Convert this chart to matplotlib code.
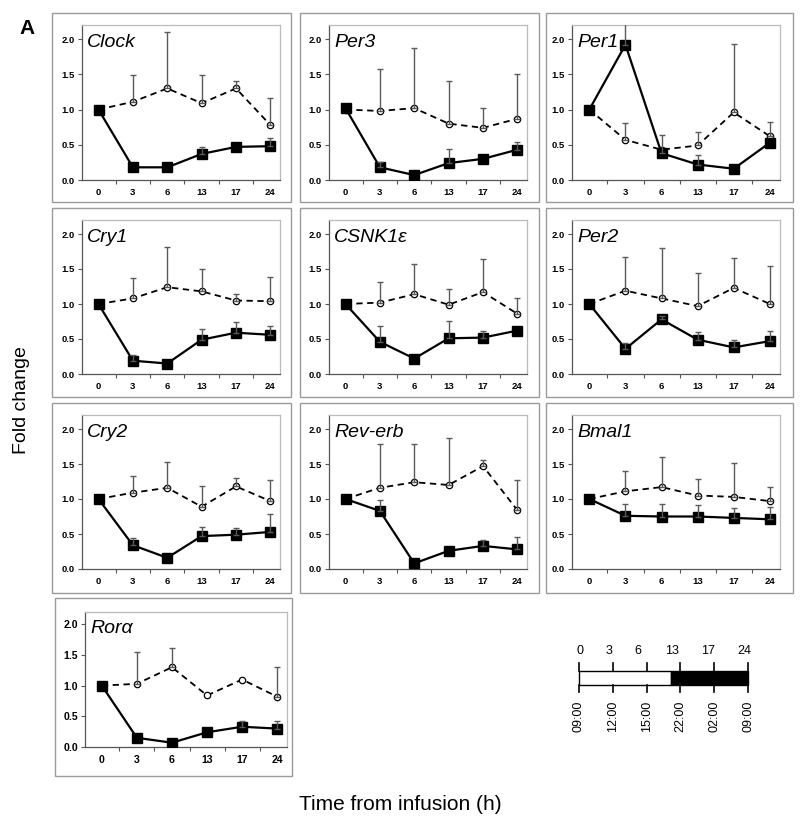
import numpy as np
import matplotlib
matplotlib.use("Agg")
import matplotlib.pyplot as plt
from matplotlib.patches import Rectangle

plt.rcParams['font.family'] = ['Liberation Sans', 'DejaVu Sans']

# ---------------- data ----------------
times = ['0', '3', '6', '13', '17', '24']
genes = ['Clock', 'Per3', 'Per1', 'Cry1', 'CSNK1ε', 'Per2', 'Cry2', 'Rev-erb', 'Bmal1', 'Rorα']

kd_clock = [1.00, 0.18, 0.18, 0.37, 0.47, 0.48]
kd_clock_err = [0, 0, 0, 0.10, 0, 0.12]
ctl_clock = [1.00, 1.11, 1.30, 1.09, 1.30, 0.78]
ctl_clock_err = [0, 0.38, 0.80, 0.40, 0.11, 0.38]

kd_per3 = [1.02, 0.18, 0.07, 0.24, 0.30, 0.43]
kd_per3_err = [0, 0.08, 0, 0.20, 0, 0.11]
ctl_per3 = [1.00, 0.98, 1.02, 0.80, 0.74, 0.87]
ctl_per3_err = [0, 0.59, 0.85, 0.61, 0.28, 0.64]

kd_per1 = [1.00, 1.92, 0.38, 0.22, 0.16, 0.53]
kd_per1_err = [0, 0.45, 0.26, 0.14, 0, 0]
ctl_per1 = [1.00, 0.57, 0.43, 0.49, 0.96, 0.62]
ctl_per1_err = [0, 0.24, 0, 0.19, 0.97, 0.20]

kd_cry1 = [1.00, 0.19, 0.15, 0.49, 0.59, 0.56]
kd_cry1_err = [0, 0.08, 0, 0.15, 0.15, 0.13]
ctl_cry1 = [1.00, 1.08, 1.24, 1.18, 1.05, 1.04]
ctl_cry1_err = [0, 0.29, 0.58, 0.32, 0.10, 0.35]

kd_csnk = [1.00, 0.46, 0.22, 0.51, 0.52, 0.62]
kd_csnk_err = [0, 0.22, 0, 0.25, 0.09, 0]
ctl_csnk = [1.00, 1.02, 1.14, 0.99, 1.17, 0.86]
ctl_csnk_err = [0, 0.29, 0.43, 0.23, 0.48, 0.22]

kd_per2 = [1.00, 0.36, 0.78, 0.49, 0.38, 0.47]
kd_per2_err = [0, 0.08, 0.05, 0.11, 0.11, 0.15]
ctl_per2 = [1.00, 1.19, 1.08, 0.97, 1.23, 1.00]
ctl_per2_err = [0, 0.48, 0.72, 0.48, 0.43, 0.54]

kd_cry2 = [1.00, 0.34, 0.16, 0.47, 0.49, 0.53]
kd_cry2_err = [0, 0.11, 0, 0.13, 0.10, 0.26]
ctl_cry2 = [1.00, 1.09, 1.16, 0.89, 1.18, 0.97]
ctl_cry2_err = [0, 0.24, 0.37, 0.30, 0.12, 0.30]

kd_reverb = [1.00, 0.83, 0.08, 0.26, 0.33, 0.28]
kd_reverb_err = [0, 0.16, 0, 0, 0.08, 0.18]
ctl_reverb = [1.00, 1.16, 1.24, 1.20, 1.47, 0.84]
ctl_reverb_err = [0, 0.63, 0.55, 0.67, 0.09, 0.43]

kd_bmal1 = [1.00, 0.76, 0.75, 0.75, 0.73, 0.71]
kd_bmal1_err = [0, 0.17, 0.18, 0.16, 0.14, 0.17]
ctl_bmal1 = [1.00, 1.11, 1.17, 1.05, 1.03, 0.97]
ctl_bmal1_err = [0, 0.29, 0.43, 0.23, 0.48, 0.20]

kd_rora = [1.00, 0.15, 0.07, 0.24, 0.33, 0.30]
kd_rora_err = [0, 0, 0, 0, 0.10, 0.13]
ctl_rora = [1.00, 1.03, 1.30, 0.84, 1.10, 0.82]
ctl_rora_err = [0, 0.52, 0.31, 0, 0, 0.48]

kd_all = [kd_clock, kd_per3, kd_per1, kd_cry1, kd_csnk, kd_per2, kd_cry2, kd_reverb, kd_bmal1, kd_rora]
kd_err_all = [kd_clock_err, kd_per3_err, kd_per1_err, kd_cry1_err, kd_csnk_err, kd_per2_err,
              kd_cry2_err, kd_reverb_err, kd_bmal1_err, kd_rora_err]
ctl_all = [ctl_clock, ctl_per3, ctl_per1, ctl_cry1, ctl_csnk, ctl_per2, ctl_cry2, ctl_reverb, ctl_bmal1, ctl_rora]
ctl_err_all = [ctl_clock_err, ctl_per3_err, ctl_per1_err, ctl_cry1_err, ctl_csnk_err, ctl_per2_err,
               ctl_cry2_err, ctl_reverb_err, ctl_bmal1_err, ctl_rora_err]

timeline_hours = ['0', '3', '6', '13', '17', '24']
timeline_clock = ['09:00', '12:00', '15:00', '22:00', '02:00', '09:00']

# ---------------- layout (pixels) ----------------
W, H = 800, 831
fig = plt.figure(figsize=(W / 100, H / 100), dpi=100)


def rect(x0, y0, x1, y1):
    return [x0 / W, 1 - y1 / H, (x1 - x0) / W, (y1 - y0) / H]


col_box = [(52, 291), (300, 539), (546, 793)]
col_ax = [(82, 280), (329, 527), (572, 780)]
row_box = [(13, 202), (208, 397), (403, 593)]
row_ax = [(25, 180), (220, 374), (415, 569)]

panels = []
for r in range(3):
    for c in range(3):
        panels.append((col_box[c][0], row_box[r][0], col_box[c][1], row_box[r][1],
                       col_ax[c][0], row_ax[r][0], col_ax[c][1], row_ax[r][1]))
panels.append((55, 598, 292, 776, 85, 612, 287, 747))

x = np.arange(len(times))
err_color = '#5a5a5a'

for i, gene in enumerate(genes):
    bx0, by0, bx1, by1, ax0, ay0, ax1, ay1 = panels[i]
    fig.add_artist(Rectangle((bx0 / W, 1 - by1 / H), (bx1 - bx0) / W, (by1 - by0) / H,
                             transform=fig.transFigure, fill=False, edgecolor='#9a9a9a', lw=1.0))
    ax = fig.add_axes(rect(ax0, ay0, ax1, ay1))
    kd = np.array(kd_all[i]); kde = np.array(kd_err_all[i])
    ct = np.array(ctl_all[i]); cte = np.array(ctl_err_all[i])

    ax.plot(x, ct, color='black', lw=1.3, ls=(0, (3.5, 2.5)), zorder=3)
    ax.plot(x, ct, ls='none', marker='o', ms=4.6, mfc='white', mec='black', mew=0.9, zorder=4)
    ax.plot(x, kd, color='black', lw=1.6, marker='s', ms=6.5, mfc='black', mec='black', zorder=4)

    m = cte > 0
    ax.errorbar(x[m], ct[m], yerr=[np.zeros(m.sum()), cte[m]], fmt='none', ecolor=err_color,
                elinewidth=1.0, capsize=2.2, capthick=1.0, zorder=5)
    m = kde > 0
    ax.errorbar(x[m], kd[m], yerr=[np.zeros(m.sum()), kde[m]], fmt='none', ecolor=err_color,
                elinewidth=1.0, capsize=2.2, capthick=1.0, zorder=5)

    ax.set_xlim(-0.48, 5.28)
    ax.set_ylim(0, 2.2)
    ax.set_yticks([0, 0.5, 1.0, 1.5, 2.0])
    ax.set_yticklabels(['%.1f' % v for v in [0, 0.5, 1.0, 1.5, 2.0]])
    ax.set_xticks(x)
    ax.set_xticklabels(times)
    ax.set_xticks(x[:-1] + 0.5, minor=True)
    fs = 6.8 if i != 9 else 7.6
    ax.tick_params(axis='x', which='major', length=0, pad=6, labelsize=fs)
    ax.tick_params(axis='x', which='minor', length=3, width=0.8, direction='out', color='#555555')
    ax.tick_params(axis='y', which='major', length=3, width=0.8, direction='out', pad=2,
                   labelsize=fs, color='#555555')
    for lab in ax.get_xticklabels() + ax.get_yticklabels():
        lab.set_fontweight('bold')
    for s in ['left', 'bottom']:
        ax.spines[s].set_color('#555555')
        ax.spines[s].set_linewidth(0.9)
    for s in ['top', 'right']:
        ax.spines[s].set_color('#bbbbbb')
        ax.spines[s].set_linewidth(0.9)
    ax.text(0.025, 0.94, gene, transform=ax.transAxes, ha='left', va='top',
            fontsize=14, fontstyle='italic')

# ---------------- labels ----------------
fig.text(27 / W, 1 - 28 / H, 'A', fontsize=15, fontweight='bold', ha='center', va='center')
fig.text(22 / W, 1 - 400 / H, 'Fold change', fontsize=14, rotation=90, ha='center', va='center')
fig.text(400 / W, 1 - 805 / H, 'Time from infusion (h)', fontsize=15, ha='center', va='center')

# ---------------- timeline ----------------
tl = fig.add_axes(rect(579, 671, 748, 685))
tl.set_xlim(0, 5)
tl.set_ylim(0, 1)
tl.axis('off')
tl.add_patch(Rectangle((0, 0), 2.72, 1, facecolor='white', edgecolor='black', lw=1.0, clip_on=False))
tl.add_patch(Rectangle((2.72, 0), 5 - 2.72, 1, facecolor='black', edgecolor='black', lw=1.0, clip_on=False))
tick_pos = np.arange(len(timeline_clock))
for tp in tick_pos:
    tl.plot([tp, tp], [1, 1.6], color='black', lw=1.2, clip_on=False)
    tl.plot([tp, tp], [0, -0.5], color='black', lw=1.2, clip_on=False)
top_label_pos = [0.03, 0.89, 1.75, 2.75, 3.82, 4.88]
for lab, tp in zip(timeline_hours, top_label_pos):
    tl.text(tp, 2.45, lab, ha='center', va='center', fontsize=9)
for lab, tp in zip(timeline_clock, tick_pos):
    tl.text(tp, -1.1, lab, ha='center', va='top', rotation=90, fontsize=9)

fig.savefig('out.png', dpi=100)
